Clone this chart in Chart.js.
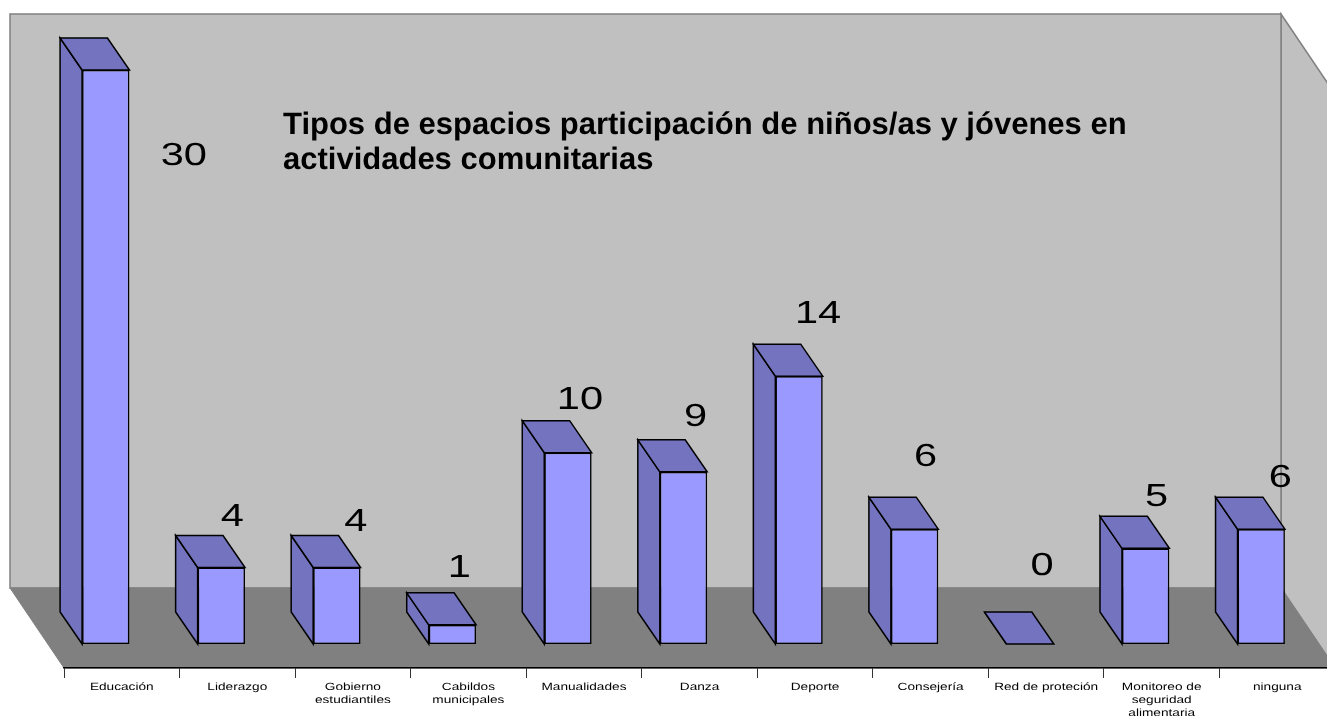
<!DOCTYPE html>
<html>
<head>
<meta charset="utf-8">
<title>Tipos de espacios</title>
<script src="https://cdn.jsdelivr.net/npm/chart.js@4"></script>
<style>
    html, body { margin: 0; padding: 0; background: #fff; overflow: hidden; width: 1327px; height: 717px; }
    #wrap { width: 1327px; height: 717px; overflow: hidden; }
    canvas { display: block; }
</style>
</head>
<body>
<div id="wrap"><canvas id="barChart" width="1345" height="717"></canvas></div>
<script>
let categories = ['Educación', 'Liderazgo', ['Gobierno', 'estudiantiles'], ['Cabildos', 'municipales'], 'Manualidades', 'Danza', 'Deporte', 'Consejería', 'Red de proteción', ['Monitoreo de', 'seguridad', 'alimentaria'], 'ninguna']
let values = [30, 4, 4, 1, 10, 9, 14, 6, 0, 5, 6]
let titleLines = ['Tipos de espacios participación de niños/as y jóvenes en', 'actividades comunitarias']

let colorFront = '#9999FF'
let colorSide = '#7373BF'
let colorWall = '#C0C0C0'
let colorFloor = '#808080'

// profundidad de la vista 3D
let floorDepth = { x: 54, y: 80 }
let barShift = { x: 16, y: 24 }
let barDepth = { x: 22, y: 32 }
let textStretch = 1.3

// las etiquetas estan movidas a mano en el original, desde el tope de cada barra
let labelShift = [[78, 86], [11, -50.5], [19, -45.5], [7, -57], [12, -52], [12, -55], [19, -62], [11, -72.5], [12, -78], [11, -51.6], [19, -51.5]]

function poly(ctx, pts, fill, stroke, width) {
    ctx.beginPath()
    pts.forEach((p, i) => i ? ctx.lineTo(p[0], p[1]) : ctx.moveTo(p[0], p[1]))
    ctx.closePath()
    ctx.fillStyle = fill
    ctx.fill()
    ctx.strokeStyle = stroke
    ctx.lineWidth = width
    ctx.stroke()
}

function stretchedText(ctx, text, x, y) {
    ctx.save()
    ctx.translate(x, y)
    ctx.scale(textStretch, 1)
    ctx.fillText(text, 0, 0)
    ctx.restore()
}

let box3d = {
    id: 'box3d',
    beforeDraw(chart) {
        let ctx = chart.ctx
        let a = chart.chartArea
        let dx = floorDepth.x, dy = floorDepth.y
        ctx.save()
        poly(ctx, [[a.right - dx, a.top - dy], [a.right, a.top], [a.right, a.bottom], [a.right - dx, a.bottom - dy]], colorWall, colorFloor, 1.5)
        poly(ctx, [[a.left - dx, a.top - dy], [a.right - dx, a.top - dy], [a.right - dx, a.bottom - dy], [a.left - dx, a.bottom - dy]], colorWall, colorFloor, 1.5)
        poly(ctx, [[a.left - dx, a.bottom - dy], [a.right - dx, a.bottom - dy], [a.right, a.bottom], [a.left, a.bottom]], colorFloor, colorFloor, 1)
        ctx.restore()
    },
    beforeDatasetsDraw(chart) {
        let ctx = chart.ctx
        ctx.save()
        ctx.translate(-barShift.x, -barShift.y)
        chart.getDatasetMeta(0).data.forEach(bar => {
            let w = bar.width / 2
            let bx = barDepth.x, by = barDepth.y
            let l = bar.x - w, r = bar.x + w
            poly(ctx, [[l - bx, bar.y - by], [l, bar.y], [l, bar.base], [l - bx, bar.base - by]], colorSide, '#000', 1.5)
            poly(ctx, [[l - bx, bar.y - by], [r - bx, bar.y - by], [r, bar.y], [l, bar.y]], colorSide, '#000', 1.5)
        })
    },
    afterDatasetsDraw(chart) {
        let ctx = chart.ctx
        ctx.restore()
        ctx.save()
        ctx.translate(-barShift.x, -barShift.y)
        ctx.textRendering = 'geometricPrecision'
        ctx.fillStyle = '#000'
        ctx.textAlign = 'center'
        ctx.textBaseline = 'middle'
        ctx.font = '32px "Liberation Sans"'
        chart.getDatasetMeta(0).data.forEach((bar, i) => {
            stretchedText(ctx, String(values[i]), bar.x + labelShift[i][0], bar.y + labelShift[i][1])
        })
        ctx.restore()
    },
    afterDraw(chart) {
        let ctx = chart.ctx
        let scale = chart.scales.x
        ctx.save()
        ctx.textRendering = 'geometricPrecision'
        ctx.fillStyle = '#000'
        ctx.textAlign = 'center'
        ctx.textBaseline = 'middle'
        ctx.font = '10.5px "Liberation Sans"'
        categories.forEach((label, i) => {
            let lines = Array.isArray(label) ? label : [label]
            lines.forEach((line, j) => stretchedText(ctx, line, scale.getPixelForTick(i), 687 + j * 13))
        })
        ctx.textAlign = 'left'
        ctx.textBaseline = 'alphabetic'
        ctx.font = 'bold 31px "Liberation Sans"'
        titleLines.forEach((line, j) => ctx.fillText(line, 283, 133.5 + j * 35))
        ctx.restore()
    }
}

let barChart = new Chart(document.getElementById('barChart').getContext('2d'), {
    type: 'bar',
    plugins: [box3d],
    data: {
        labels: categories,
        datasets: [{
            data: values,
            backgroundColor: colorFront,
            borderColor: '#000',
            borderWidth: 1.6,
            borderSkipped: false,
            categoryPercentage: 1,
            barPercentage: 0.41,
            clip: false
        }]
    },
    options: {
        responsive: false,
        animation: false,
        layout: { padding: { left: 64, right: 10, top: 94, bottom: 0 } },
        plugins: {
            legend: { display: false },
            tooltip: { enabled: false }
        },
        scales: {
            x: {
                afterFit(scale) { scale.height = 49 },
                ticks: { display: false },
                border: { color: '#000', width: 1.5 },
                grid: { drawOnChartArea: false, drawTicks: true, tickLength: 10, color: '#333', offset: true }
            },
            y: { display: false, min: 0, max: 30 }
        }
    }
});
</script>
</body>
</html>
